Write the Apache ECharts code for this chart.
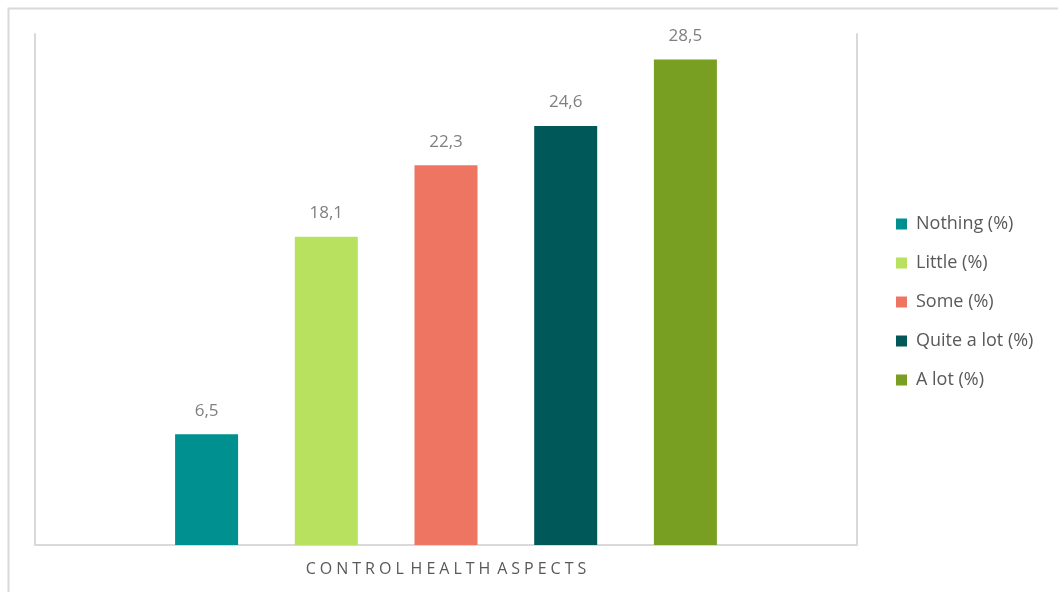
<!DOCTYPE html>
<html>
<head>
<meta charset="utf-8">
<script src="https://cdn.jsdelivr.net/npm/echarts@6/dist/echarts.min.js"></script>
<style>html,body{margin:0;padding:0;background:#fff;}#c{width:1058px;height:592px;}</style>
</head>
<body>
<div id="c"></div>
<script>
const categories = ['CONTROL HEALTH ASPECTS'];
const seriesNames = ['Nothing (%)', 'Little (%)', 'Some (%)', 'Quite a lot (%)', 'A lot (%)'];
const seriesValues = [[6.5], [18.1], [22.3], [24.6], [28.5]];
const colors = ['#00908f', '#b7e15f', '#ee7562', '#015859', '#789e22'];

const chart = echarts.init(document.getElementById('c'), null, {renderer: 'canvas'});
const font = '"Open Sans", "Noto Sans", sans-serif';
chart.setOption({
  animation: false,
  backgroundColor: '#fff',
  textStyle: {fontFamily: font},
  graphic: [{
    type: 'rect', shape: {x: 8.5, y: 8.5, width: 1200, height: 800},
    style: {fill: 'none', stroke: '#d9d9d9', lineWidth: 2}, silent: true
  }],
  grid: {left: 35, right: 201, top: 34, bottom: 47, containLabel: false},
  legend: {
    orient: 'vertical', left: 891, top: 210, itemWidth: 11, itemHeight: 11, itemGap: 21,
    icon: 'rect',
    textStyle: {fontSize: 18, color: '#595959', fontFamily: font, padding: [0, 0, 0, 4]},
    data: seriesNames
  },
  xAxis: {
    type: 'category', data: categories,
    axisLine: {lineStyle: {color: '#d9d9d9', width: 2}},
    axisTick: {show: false},
    axisLabel: {color: '#595959', fontSize: 16, margin: 16, fontFamily: font,
      formatter: v => v.split(' ').map(w => w.split('').join('\u2005')).join('\u2006 ')}
  },
  yAxis: [{
    type: 'value', min: 0, max: 30, interval: 5,
    axisLine: {show: true, lineStyle: {color: '#d9d9d9', width: 2}},
    axisLabel: {show: false}, axisTick: {show: false}, splitLine: {show: false}
  }, {
    type: 'value', min: 0, max: 30, interval: 5, position: 'right',
    axisLine: {show: true, lineStyle: {color: '#d9d9d9', width: 2}},
    axisLabel: {show: false}, axisTick: {show: false}, splitLine: {show: false}
  }],
  series: seriesNames.map((n, i) => ({
    name: n, type: 'bar', data: seriesValues[i], yAxisIndex: 0,
    barWidth: 63, barGap: '90%', barCategoryGap: '34%',
    itemStyle: {color: colors[i]},
    label: {show: true, position: 'top', distance: 15, color: '#7f7f7f', fontSize: 17, fontFamily: font,
      formatter: p => String(p.value).replace('.', ',')}
  }))
});
</script>
</body>
</html>
